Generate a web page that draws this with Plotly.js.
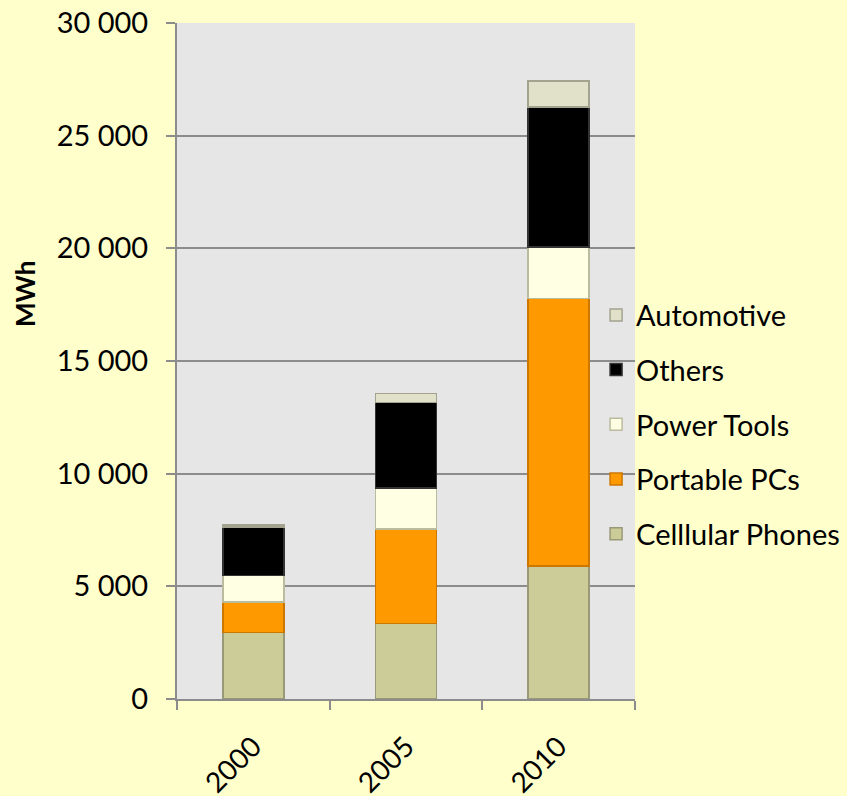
<!DOCTYPE html>
<html>
<head>
<meta charset="utf-8">
<script src="https://cdn.plot.ly/plotly-3.0.1.min.js"></script>
<style>
    html, body { margin: 0; padding: 0; background: #FFFFCC; }
    #chart { width: 847px; height: 796px; }
</style>
</head>
<body>
<div id="chart"></div>
<script>
const years = ['2000', '2005', '2010']

const cellPhones = [2950, 3360, 5900]
const portablePCs = [1350, 4180, 11880]
const powerTools = [1180, 1820, 2290]
const others = [2160, 3790, 6210]
const automotive = [90, 410, 1150]

const seriesNames = ['Celllular Phones', 'Portable PCs', 'Power Tools', 'Others', 'Automotive']
const seriesValues = [cellPhones, portablePCs, powerTools, others, automotive]
const fills = ['#CCCC99', '#FF9900', '#FFFFE3', '#000000', '#E1E1C9']
const edges = ['#999977', '#CC7700', '#BBBBA0', '#333333', '#A3A390']

const yTicks = [0, 5000, 10000, 15000, 20000, 25000, 30000]

const font = 'Lato, "Open Sans", sans-serif'

const traces = seriesValues.map((vals, i) => {
    return {
        type: 'bar',
        x: years,
        y: vals,
        name: seriesNames[i],
        legendgroup: 'g' + i,
        legendrank: 10 - i,
        marker: {
            color: fills[i],
            line: { color: edges[i], width: 1.5 }
        },
        hoverinfo: 'none',
    }
})

const layout = {
    width: 847,
    height: 796,
    barmode: 'stack',
    bargap: 0.6,
    separators: '. ',
    paper_bgcolor: '#FFFFCC',
    plot_bgcolor: '#E6E6E6',
    font: { family: font, size: 29, color: '#000' },
    margin: { l: 177, r: 212, t: 23, b: 97, autoexpand: false },
    xaxis: {
        type: 'category',
        tickangle: -45,
        ticks: 'outside',
        tickson: 'boundaries',
        ticklen: 9,
        tickwidth: 2,
        tickcolor: '#8C8C8C',
        ticklabelstandoff: 18,
        showline: true,
        linecolor: '#8C8C8C',
        linewidth: 2,
        showgrid: false,
        automargin: false,
        tickfont: { family: font, size: 28 },
    },
    yaxis: {
        range: [0, 30000],
        tickvals: yTicks,
        tickformat: ',d',
        ticks: 'outside',
        ticklen: 9,
        tickwidth: 2,
        tickcolor: '#8C8C8C',
        ticklabelstandoff: 12,
        showline: true,
        linecolor: '#8C8C8C',
        linewidth: 2,
        gridcolor: '#8C8C8C',
        gridwidth: 2,
        zeroline: false,
        automargin: false,
        tickfont: { family: font, size: 29 },
    },
    annotations: [{
        text: '<b>MWh</b>',
        textangle: -90,
        xref: 'paper',
        yref: 'paper',
        x: -0.332,
        y: 0.599,
        xanchor: 'center',
        yanchor: 'middle',
        showarrow: false,
        font: { family: font, size: 26 },
    }],
    legend: {
        x: 0.915,
        xanchor: 'left',
        y: 0.406,
        yanchor: 'middle',
        traceorder: 'grouped',
        tracegroupgap: 14,
        bgcolor: 'rgba(0,0,0,0)',
        font: { family: font, size: 29 },
        itemwidth: 30,
    },
    showlegend: true,
}

Plotly.newPlot('chart', traces, layout, { displayModeBar: false, staticPlot: true })
</script>
</body>
</html>
